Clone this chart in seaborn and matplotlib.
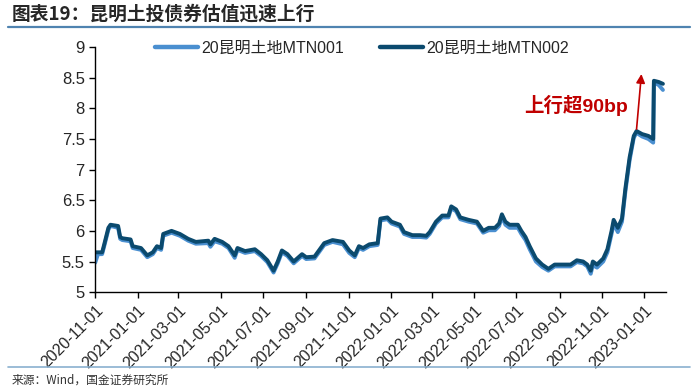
import numpy as np
import pandas as pd
import matplotlib
matplotlib.use("Agg")
import matplotlib.pyplot as plt
import matplotlib.dates as mdates
import seaborn as sns

sns.set_theme(style="ticks")
plt.rcParams['font.family'] = ['Liberation Sans', 'Noto Sans CJK SC', 'DejaVu Sans']

# data
dates = [
    "2020-11-01", "2020-11-05", "2020-11-11", "2020-11-14", "2020-11-20", "2020-11-23",
    "2020-12-04", "2020-12-07", "2020-12-10", "2020-12-22", "2020-12-25", "2021-01-06",
    "2021-01-15", "2021-01-23", "2021-01-29", "2021-02-04", "2021-02-07", "2021-02-19",
    "2021-03-03", "2021-03-15", "2021-03-26", "2021-04-13", "2021-04-16", "2021-04-22",
    "2021-05-03", "2021-05-12", "2021-05-21", "2021-05-25", "2021-06-05", "2021-06-19",
    "2021-06-28", "2021-07-07", "2021-07-16", "2021-07-22", "2021-07-28", "2021-08-05",
    "2021-08-14", "2021-08-26", "2021-09-01", "2021-09-13", "2021-09-27", "2021-10-09",
    "2021-10-24", "2021-11-02", "2021-11-10", "2021-11-16", "2021-11-22", "2021-12-01",
    "2021-12-13", "2021-12-17", "2021-12-27", "2022-01-02", "2022-01-14", "2022-01-20",
    "2022-02-01", "2022-02-12", "2022-02-21", "2022-02-26", "2022-03-07", "2022-03-16",
    "2022-03-25", "2022-03-29", "2022-04-05", "2022-04-11", "2022-04-23", "2022-05-05",
    "2022-05-14", "2022-05-22", "2022-05-31", "2022-06-06", "2022-06-10", "2022-06-15",
    "2022-06-21", "2022-07-03", "2022-07-08", "2022-07-14", "2022-07-20", "2022-07-29",
    "2022-08-07", "2022-08-16", "2022-08-25", "2022-09-05", "2022-09-17", "2022-09-26",
    "2022-10-05", "2022-10-11", "2022-10-16", "2022-10-19", "2022-10-25", "2022-11-03",
    "2022-11-09", "2022-11-15", "2022-11-18", "2022-11-24", "2022-11-30", "2022-12-05",
    "2022-12-11", "2022-12-17", "2022-12-21", "2022-12-29", "2023-01-07", "2023-01-14",
    "2023-01-15", "2023-01-22", "2023-01-28",
]

mtn002 = [
    5.65, 5.65, 5.65, 5.78, 6.05, 6.10,
    6.08, 5.90, 5.88, 5.86, 5.75, 5.72,
    5.60, 5.65, 5.75, 5.72, 5.95, 6.00,
    5.95, 5.87, 5.82, 5.84, 5.78, 5.87,
    5.82, 5.75, 5.60, 5.72, 5.67, 5.70,
    5.62, 5.52, 5.35, 5.50, 5.68, 5.62,
    5.50, 5.62, 5.57, 5.58, 5.80, 5.85,
    5.82, 5.68, 5.60, 5.75, 5.72, 5.78,
    5.80, 6.20, 6.22, 6.15, 6.10, 5.98,
    5.93, 5.93, 5.92, 5.98, 6.15, 6.25,
    6.25, 6.40, 6.35, 6.22, 6.18, 6.15,
    6.00, 6.05, 6.05, 6.12, 6.27, 6.15,
    6.10, 6.10, 6.00, 5.90, 5.75, 5.55,
    5.45, 5.38, 5.45, 5.45, 5.45, 5.52,
    5.50, 5.45, 5.35, 5.50, 5.45, 5.55,
    5.70, 6.00, 6.18, 6.05, 6.20, 6.70,
    7.20, 7.55, 7.63, 7.58, 7.55, 7.50,
    8.45, 8.43, 8.40,
]

mtn001 = [
    5.48, 5.62, 5.62, 5.75, 6.02, 6.08,
    6.05, 5.87, 5.85, 5.83, 5.72, 5.69,
    5.57, 5.62, 5.72, 5.69, 5.92, 5.97,
    5.92, 5.84, 5.79, 5.80, 5.74, 5.83,
    5.79, 5.72, 5.56, 5.69, 5.64, 5.67,
    5.59, 5.49, 5.32, 5.47, 5.65, 5.59,
    5.47, 5.59, 5.54, 5.55, 5.77, 5.82,
    5.78, 5.64, 5.57, 5.72, 5.69, 5.75,
    5.77, 6.17, 6.19, 6.12, 6.07, 5.95,
    5.90, 5.90, 5.89, 5.95, 6.12, 6.22,
    6.22, 6.37, 6.32, 6.19, 6.15, 6.12,
    5.97, 6.01, 6.01, 6.08, 6.23, 6.10,
    6.05, 6.05, 5.95, 5.85, 5.70, 5.50,
    5.41, 5.35, 5.42, 5.42, 5.42, 5.49,
    5.47, 5.42, 5.30, 5.44, 5.40, 5.50,
    5.65, 5.95, 6.12, 5.98, 6.15, 6.65,
    7.15, 7.52, 7.60, 7.54, 7.50, 7.44,
    8.42, 8.38, 8.30,
]

series_names = ["20昆明土地MTN001", "20昆明土地MTN002"]
colors = ["#4a8fd0", "#0b4a6e"]
tick_dates = pd.date_range("2020-11-01", "2023-01-01", freq="2MS")

df = pd.DataFrame({
    "date": pd.to_datetime(dates * 2),
    "value": mtn001 + mtn002,
    "series": [series_names[0]] * len(dates) + [series_names[1]] * len(dates),
})

fig = plt.figure(figsize=(7, 3.89), dpi=100)
ax = fig.add_axes([0.136, 0.249, 0.815, 0.630])

sns.lineplot(data=df, x="date", y="value", hue="series", hue_order=series_names,
             palette=colors, linewidth=2.8, ax=ax, legend=False)

ax.set_ylim(5, 9)
ax.set_yticks(np.arange(5, 9.01, 0.5))
ax.set_yticklabels(["5", "5.5", "6", "6.5", "7", "7.5", "8", "8.5", "9"])
ax.set_xlim(pd.Timestamp("2020-11-01"), pd.Timestamp("2023-02-01"))
ax.set_xticks(tick_dates)
ax.xaxis.set_major_formatter(mdates.DateFormatter("%Y-%m-%d"))
plt.setp(ax.get_xticklabels(), rotation=45, ha="right", rotation_mode="anchor")
ax.tick_params(axis="x", labelsize=11.5, length=4, width=1, color="black")
ax.tick_params(axis="y", labelsize=12, length=4, width=1, color="black")
ax.set_xlabel("")
ax.set_ylabel("")
for s in ["top", "right"]:
    ax.spines[s].set_visible(False)
for s in ["left", "bottom"]:
    ax.spines[s].set_color("black")
    ax.spines[s].set_linewidth(1)

handles = [plt.Line2D([], [], color=c, lw=3.2) for c in colors]
fig.legend(handles, series_names, loc="center", bbox_to_anchor=(0.517, 0.876),
           ncol=2, frameon=False, fontsize=11.5, handlelength=2.7,
           columnspacing=2.2, handletextpad=0.2)

# annotation
ax.text(pd.Timestamp("2022-12-09"), 8.05, "上行超90bp", color="#c00000",
        fontsize=14, fontweight="bold", ha="right", va="center")
ax.annotate("", xy=(pd.Timestamp("2022-12-28"), 8.56),
            xytext=(pd.Timestamp("2022-12-21"), 7.66),
            arrowprops=dict(arrowstyle="-|>", color="#c00000", lw=1.2,
                            mutation_scale=13, shrinkA=0, shrinkB=0))

# title and source
fig.text(0.017, 0.963, "图表19：昆明土投债券估值迅速上行", fontsize=13.5,
         fontweight="bold", fontstyle="italic", ha="left", va="center",
         family=["Noto Sans CJK SC", "DejaVu Sans"])
fig.add_artist(plt.Line2D([0.011, 0.986], [0.930, 0.930], color="#4f83b0", lw=1.6))
fig.add_artist(plt.Line2D([0.011, 0.986], [0.057, 0.057], color="#8ab0cf", lw=1.2))
fig.text(0.017, 0.023, "来源：Wind，国金证券研究所", fontsize=8.5, color="#333333",
         ha="left", va="center", family=["Noto Sans CJK SC", "DejaVu Sans"])

fig.savefig("out.png", dpi=100)
